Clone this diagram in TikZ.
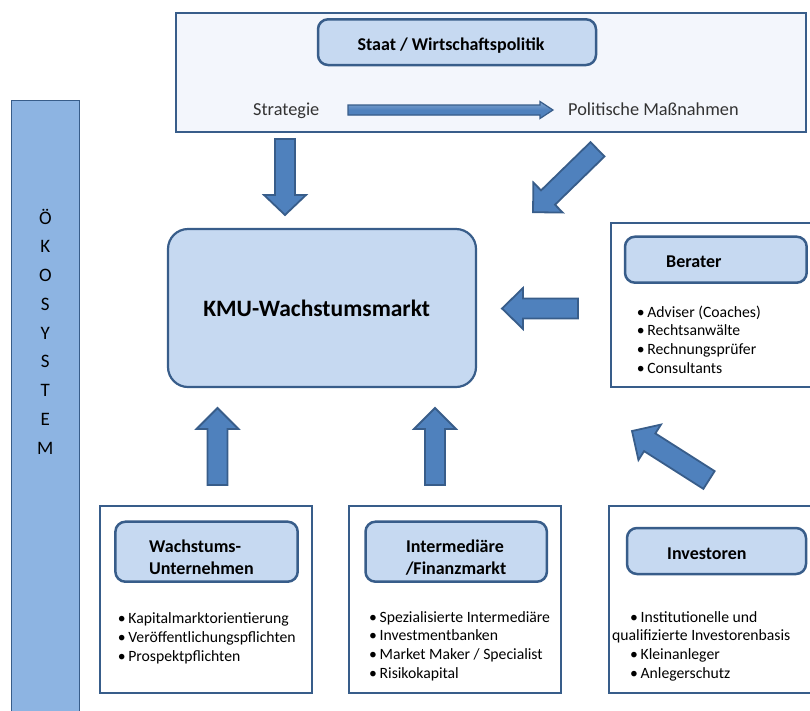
\documentclass[tikz,border=0pt]{standalone}
\usepackage{fontspec}
\setmainfont{Carlito}
\usetikzlibrary{calc}
\definecolor{bordc}{HTML}{385D8A}
\definecolor{arrf}{HTML}{4F81BD}
\definecolor{lightf}{HTML}{C6D9F1}
\definecolor{topf}{HTML}{F3F6FC}
\definecolor{barf}{HTML}{8DB4E2}
\definecolor{txt}{HTML}{333333}
% block arrow: [options]{start}{tip}{half shaft}{half head}{head length}
\newcommand\blockarr[6][]{%
  \path ($(#3)!#6!(#2)$) coordinate (hd);
  \draw[arrowshape,#1] ($(#2)!#4!90:(#3)$) -- ($(hd)!#4!90:(#3)$) -- ($(hd)!#5!90:(#3)$) -- (#3)
     -- ($(hd)!#5!-90:(#3)$) -- ($(hd)!#4!-90:(#3)$) -- ($(#2)!#4!-90:(#3)$) -- cycle;}
\begin{document}
\begin{tikzpicture}[x=1pt,y=-1pt,
  frame/.style={draw=bordc, line width=2pt, fill=white, inner sep=0pt},
  inbox/.style={draw=bordc, line width=2.5pt, fill=lightf, rounded corners=10pt, inner sep=0pt},
  arrowshape/.style={draw=bordc, line width=1.8pt, fill=arrf, line join=miter},
  bodytxt/.style={inner sep=0pt, anchor=base west, font=\fontsize{18.3}{22}\selectfont, text=txt},
  headtxt/.style={inner sep=0pt, font=\bfseries\fontsize{18}{22}\selectfont},
  bullettxt/.style={inner sep=0pt, anchor=base west, font=\fontsize{15.7}{19}\selectfont},
  bartxt/.style={inner sep=0pt, anchor=base, font=\fontsize{19}{22}\selectfont}]
\useasboundingbox (0,0) rectangle (810,710);
\clip (0,0) rectangle (810,710);

% Oekosystem bar
\node[draw=bordc, line width=1pt, fill=barf, minimum width=67.3pt, minimum height=620pt, inner sep=0pt] (bar) at (45.35,410) {};
\foreach \l [count=\i] in {Ö,K,O,S,Y,S,T,E,M}
  \node[bartxt] (bl\i) at (45.35,{224+28.75*(\i-1)}) {\l};

% top frame
\node[frame, fill=topf, minimum width=630pt, minimum height=119.3pt] (staatframe) at (491,72.35) {};
\node[inbox, minimum width=278pt, minimum height=45.7pt] (staatbox) at (457,42.15) {};
\node[headtxt, anchor=base] (staattxt) at (451,50) {Staat / Wirtschaftspolitik};
\node[bodytxt] (strat) at (253,115) {Strategie};
\node[bodytxt] (polit) at (568,115) {Politische Maßnahmen};

% KMU
\node[draw=bordc, line width=2.2pt, fill=lightf, rounded corners=20pt, minimum width=308pt, minimum height=158pt, inner sep=0pt] (kmu) at (322,308) {};
\node[inner sep=0pt, anchor=base, font=\bfseries\fontsize{23.5}{28}\selectfont] (kmutxt) at (316.7,316.7) {KMU-Wachstumsmarkt};

% Berater
\node[frame, minimum width=219.3pt, minimum height=164pt] (berframe) at (720.35,304.7) {};
\node[inbox, minimum width=181.7pt, minimum height=46pt] (berbox) at (715.85,259.7) {};
\node[headtxt, anchor=base west] (bertxt) at (666,267.7) {Berater};
\foreach \t [count=\i] in {Adviser (Coaches),Rechtsanwälte,Rechnungsprüfer,Consultants}
  \node[bullettxt] (ber\i) at (636.7,{317.3+18.6*(\i-1)}) {•\,\t};

% bottom frames
\node[frame, minimum width=212pt, minimum height=187pt] (wuframe) at (206,599.5) {};
\node[inbox, minimum width=182.3pt, minimum height=60pt] (wubox) at (206.55,551.7) {};
\node[headtxt, anchor=base west] (wu1) at (149,552) {Wachstums-};
\node[headtxt, anchor=base west] (wu2) at (149,574) {Unternehmen};
\foreach \t [count=\i] in {Kapitalmarktorientierung,Veröffentlichungspflichten,Prospektpflichten}
  \node[bullettxt] (wub\i) at (117.7,{623+19.3*(\i-1)}) {•\,\t};

\node[frame, minimum width=211.7pt, minimum height=187pt] (imframe) at (454.85,599.5) {};
\node[inbox, minimum width=181.4pt, minimum height=60pt] (imbox) at (456.2,551.7) {};
\node[headtxt, anchor=base] (im1) at (455,552) {Intermediäre};
\node[headtxt, anchor=base] (im2) at (456,574) {/Finanzmarkt};
\foreach \t [count=\i] in {Spezialisierte Intermediäre,Investmentbanken,Market Maker / Specialist,Risikokapital}
  \node[bullettxt] (imb\i) at (369,{622+18.9*(\i-1)}) {•\,\t};

\node[frame, minimum width=221pt, minimum height=187pt] (invframe) at (719.5,599.5) {};
\node[inbox, minimum width=179pt, minimum height=46pt] (invbox) at (716.5,551) {};
\node[headtxt, anchor=base west] (invtxt) at (667,559) {Investoren};
\node[bullettxt] (inv1) at (630,622) {•\,Institutionelle und};
\node[bullettxt] (inv2) at (612,640.9) {qualifizierte Investorenbasis};
\node[bullettxt] (inv3) at (630,659.8) {•\,Kleinanleger};
\node[bullettxt] (inv4) at (630,678.7) {•\,Anlegerschutz};

% arrows
\coordinate (s1) at (348,110); \coordinate (t1) at (553,110);
\blockarr[line width=1.2pt, top color=arrf!70, bottom color=arrf, middle color=arrf]{s1}{t1}{5pt}{8.5pt}{13pt}
\coordinate (s2) at (285,139); \coordinate (t2) at (285,215);
\blockarr{s2}{t2}{10pt}{21pt}{20pt}
\coordinate (s3) at (597.5,149.3); \coordinate (t3) at (533,212.2);
\blockarr{s3}{t3}{10pt}{21pt}{21pt}
\coordinate (s4) at (578,308.5); \coordinate (t4) at (502,308.5);
\blockarr{s4}{t4}{10pt}{20.5pt}{21pt}
\coordinate (s5) at (217.5,485); \coordinate (t5) at (217.5,408);
\blockarr{s5}{t5}{10pt}{21pt}{21pt}
\coordinate (s6) at (435,485); \coordinate (t6) at (435,408);
\blockarr{s6}{t6}{10pt}{21pt}{21pt}
\coordinate (s7) at (709,480); \coordinate (t7) at (632,431);
\blockarr{s7}{t7}{10.5pt}{21pt}{21pt}
\end{tikzpicture}
\end{document}
